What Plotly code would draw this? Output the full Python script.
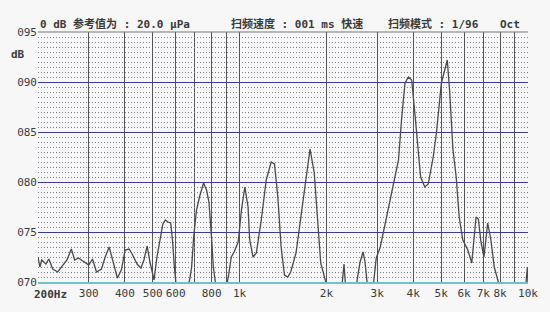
import plotly.graph_objects as go
import math

# Frequency (Hz) and level (dB re 20 uPa)
freq_hz = [200, 203, 206, 213, 218, 225, 234, 242, 252, 261, 268, 276, 288, 300, 309,
           319, 332, 342, 353, 365, 377, 389, 401, 414, 424, 441, 455, 466, 478, 489,
           497, 505, 517, 532, 542, 553, 564, 577, 586, 594, 601, 625, 656, 671, 682,
           693, 709, 726, 750, 768, 783, 799, 811, 824, 857, 899, 914, 936, 957, 989,
           1015, 1043, 1070, 1084, 1114, 1143, 1189, 1237, 1287, 1321, 1357, 1393, 1431,
           1469, 1504, 1569, 1632, 1698, 1755, 1815, 1862, 1911, 1973, 2016, 2183, 2271,
           2302, 2325, 2400, 2536, 2566, 2617, 2680, 2722, 2767, 2833, 2917, 2978, 3075,
           3198, 3327, 3461, 3556, 3650, 3746, 3849, 3951, 4055, 4166, 4243, 4387, 4509,
           4692, 4813, 5008, 5129, 5249, 5347, 5494, 5637, 5773, 5943, 6185, 6383, 6605,
           6727, 6871, 7036, 7246, 7438, 7636, 7841, 7985, 9655, 9846, 9952, 10000]
level_db = [72.5, 71.5, 72.2, 71.8, 72.3, 71.3, 71.0, 71.6, 72.2, 73.3, 72.2, 72.4, 72.0, 71.7, 72.3,
            71.0, 71.3, 72.5, 73.5, 72.0, 70.4, 71.2, 73.2, 73.3, 72.8, 71.8, 71.4, 72.2, 73.6, 72.0,
            71.0, 70.2, 72.5, 74.5, 75.8, 76.2, 76.0, 75.9, 74.0, 71.5, 70.0, 69.3, 69.3, 70.2, 71.5,
            74.5, 77.2, 78.5, 79.9, 79.2, 78.0, 74.5, 71.5, 70.0, 69.3, 69.5, 70.5, 72.5, 73.0, 74.0,
            77.2, 79.5, 77.5, 74.2, 72.5, 72.9, 76.2, 80.2, 82.0, 81.8, 78.5, 73.5, 70.7,
            70.5, 71.0, 72.9, 76.5, 80.2, 83.3, 80.9, 76.2, 71.9, 70.4, 69.5, 69.5, 70.0,
            71.8, 70.0, 69.5, 69.5, 70.5, 72.0, 73.0, 72.0, 70.0, 69.5, 70.0, 72.4, 73.5,
            75.9, 78.2, 80.9, 82.2, 86.5, 89.9, 90.5, 90.2, 86.8, 83.2, 80.5, 79.5, 79.8,
            82.5, 84.9, 89.9, 91.0, 92.2, 89.2, 83.2, 80.5, 76.5, 74.2, 73.2, 71.9, 76.5,
            76.3, 74.0, 72.5, 75.9, 74.2, 71.5, 70.3, 69.5, 69.5, 70.0, 71.5, 69.8]

x_tick_vals = [200, 300, 400, 500, 600, 800, 1000, 2000, 3000, 4000, 5000, 6000, 7000, 8000, 10000]
x_tick_text = ["", "300", "400", "500", "600", "800", "1k", "2k", "3k", "4k", "5k", "6k", "7k", "8k", "10k"]
x_minor_vals = [700, 900, 9000]
y_tick_vals = [70, 75, 80, 85, 90, 95]
y_tick_text = ["070", "075", "080", "085", "090", "095"]

MONO = "DejaVu Sans Mono, Noto Sans CJK SC, monospace"
TXT = "#3a3a3a"

fig = go.Figure()
fig.add_trace(go.Scatter(x=freq_hz, y=level_db, mode="lines",
                         line=dict(color="#4a4a4a", width=1.3), hoverinfo="skip"))

fig.update_layout(
    width=550, height=312,
    margin=dict(l=38, r=17, t=32, b=30),
    paper_bgcolor="#f7f7f7", plot_bgcolor="#f7f7f7",
    showlegend=False,
    font=dict(family=MONO, size=11, color=TXT),
)
fig.update_xaxes(
    type="log", range=[math.log10(200), math.log10(10000)],
    tickmode="array", tickvals=x_tick_vals, ticktext=x_tick_text,
    showgrid=True, gridcolor="#555555", gridwidth=1.2,
    minor=dict(tickmode="array", tickvals=x_minor_vals, showgrid=True,
               gridcolor="#555555", gridwidth=1.2, ticks=""),
    ticks="", showline=True, linecolor="#6fc0c8", linewidth=1.5,
    tickfont=dict(family=MONO, size=11, color=TXT),
    zeroline=False,
)
fig.update_yaxes(
    range=[70, 95], tickmode="array", tickvals=y_tick_vals, ticktext=y_tick_text,
    showgrid=True, gridcolor="#3c3c88", gridwidth=1.4,
    minor=dict(dtick=0.5, showgrid=True, gridcolor="#80808f", gridwidth=1,
               griddash="1px,2px", ticks=""),
    ticks="", showline=False, zeroline=False,
    tickfont=dict(family=MONO, size=11, color=TXT),
)
# top border
fig.add_shape(type="line", xref="paper", yref="paper", x0=0, x1=1, y0=1, y1=1,
              line=dict(color="#777777", width=1.2))

def px(x):
    return (x - 38) / 495.0

ann = [
    ("0 dB 参考值为 : 20.0 μPa", 38),
    ("扫频速度 : 001 ms 快速", 231),
    ("扫频模式 : 1/96", 390),
    ("Oct", 503),
]
for t, xp in ann:
    fig.add_annotation(text="<b>" + t + "</b>", xref="paper", yref="paper",
                       x=px(xp), y=1, yshift=8, xanchor="left", yanchor="middle",
                       showarrow=False, font=dict(family=MONO, size=11, color=TXT))
fig.add_annotation(text="<b>dB</b>", xref="paper", yref="paper", x=px(18), y=(282 - 55) / 250.0,
                   xanchor="center", yanchor="middle", showarrow=False,
                   font=dict(family=MONO, size=11, color=TXT))
fig.add_annotation(text="<b>200Hz</b>", x=math.log10(200), xref="x", yref="paper", y=0,
                   yshift=-12, xanchor="left", xshift=-6, yanchor="middle", showarrow=False,
                   font=dict(family=MONO, size=11, color=TXT))

fig.write_html("out.html")
